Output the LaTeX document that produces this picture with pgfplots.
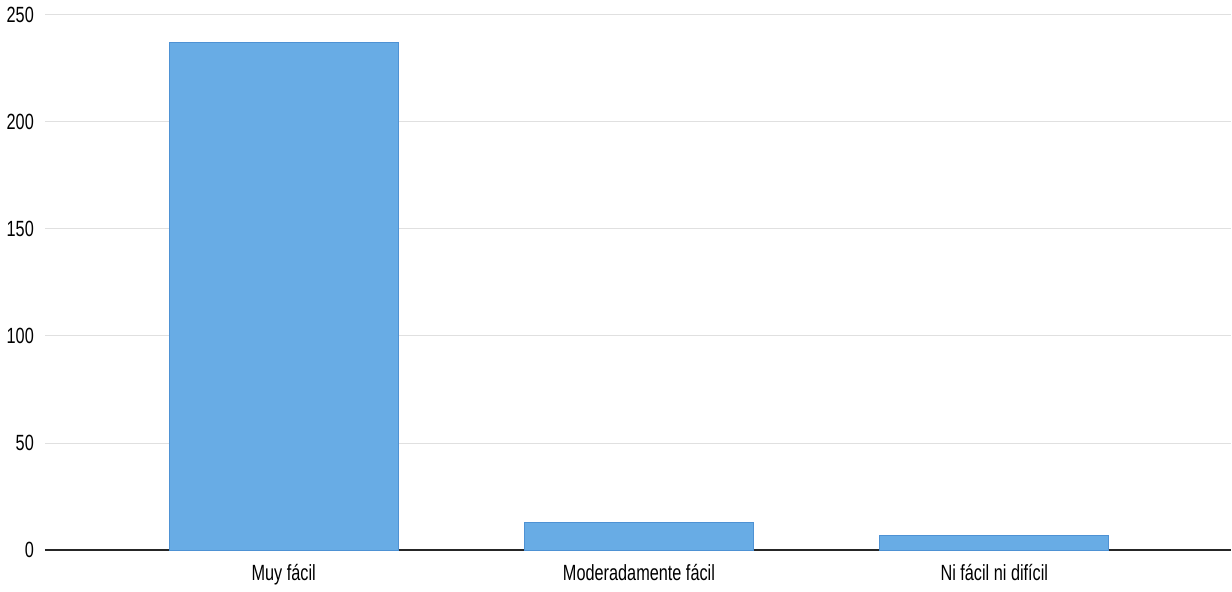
\documentclass[border=0pt]{standalone}
\usepackage{pgfplots}
\pgfplotsset{compat=1.18}
\usepackage{fontspec}
\setmainfont{Liberation Sans}[FakeStretch=0.74]
\definecolor{barblue}{RGB}{104,172,229}
\definecolor{baredge}{RGB}{78,146,212}
\begin{document}
\begin{tikzpicture}
\begin{axis}[
  scale only axis,
  width=593.5pt, height=268pt,
  xmin=-0.672, xmax=2.667, ymin=0, ymax=250,
  axis line style={draw=none},
  ybar, bar width=114.5pt,
  ytick={50,100,150,200,250},
  extra y ticks={0},
  extra y tick style={grid style={black!85, line width=0.7pt}},
  ymajorgrids,
  grid style={black!12, line width=0.5pt},
  xtick={0,1,2},
  xticklabels={Muy fácil, Moderadamente fácil, Ni fácil ni difícil},
  major tick length=0pt,
  tick label style={font=\fontsize{11}{13}\selectfont},
  /pgf/number format/assume math mode=true,
  yticklabel style={xshift=-2pt},
  xticklabel style={yshift=-3.5pt},
]
\addplot[fill=barblue, draw=baredge, line width=0.5pt] coordinates {(0,237) (1,13) (2,7)};
\end{axis}
\end{tikzpicture}
\end{document}
